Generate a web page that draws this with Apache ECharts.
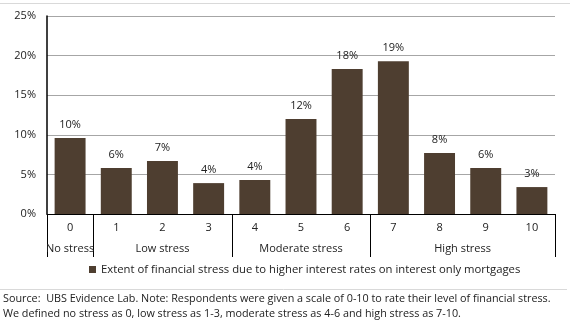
<!DOCTYPE html>
<html><head><meta charset="utf-8">
<script src="https://cdn.jsdelivr.net/npm/echarts@6/dist/echarts.min.js"></script>
<style>html,body{margin:0;padding:0;background:#fff}#c{width:570px;height:321px}</style>
</head><body><div id="c"></div>
<script>
const categories = ['0','1','2','3','4','5','6','7','8','9','10'];
const values = [9.6, 5.8, 6.7, 3.9, 4.3, 12.0, 18.3, 19.3, 7.7, 5.8, 3.4];
const seriesName = 'Extent of financial stress due to higher interest rates on interest only mortgages';
const groupNames = ['No stress', 'Low stress', 'Moderate stress', 'High stress'];
const groupCenters = [0, 2, 5, 8.5];
const groupBounds = [-0.5, 0.5, 3.5, 6.5, 10.5];
const sourceLines = [
  'Source:  UBS Evidence Lab. Note: Respondents were given a scale of 0-10 to rate their level of financial stress.',
  'We defined no stress as 0, low stress as 1-3, moderate stress as 4-6 and high stress as 7-10.'
];

const FONT = 'Open Sans';
const chart = echarts.init(document.getElementById('c'), null, {renderer: 'canvas'});
const baseGraphic = [
  {type: 'line', shape: {x1: 0, y1: 3.5, x2: 570, y2: 3.5}, style: {stroke: '#d9d9d9', lineWidth: 1}},
  {type: 'line', shape: {x1: 0, y1: 289.5, x2: 567, y2: 289.5}, style: {stroke: '#d9d9d9', lineWidth: 1}},
  {type: 'text', left: 3, top: 291, style: {text: sourceLines.join('\n'), fontFamily: FONT, fontSize: 10.8, lineHeight: 15, fill: '#222'}}
];
chart.setOption({
  animation: false,
  textStyle: {fontFamily: FONT},
  grid: {left: 47, right: 15, top: 16, bottom: 107, containLabel: false},
  legend: {
    data: [seriesName], top: 259, left: 84, itemWidth: 7, itemHeight: 7, itemGap: 4,
    icon: 'rect',
    textStyle: {fontFamily: FONT, fontSize: 11.3, color: '#222'}
  },
  xAxis: [
    {
      type: 'category', data: categories, position: 'bottom', offset: 0,
      axisLine: {onZero: false, lineStyle: {color: '#000', width: 1}},
      axisTick: {show: false},
      axisLabel: {margin: 8, fontSize: 11, color: '#222', fontFamily: FONT}
    },
    {
      type: 'value', min: -0.5, max: 10.5, position: 'bottom', offset: 0,
      axisLine: {show: false, onZero: false},
      splitLine: {show: false},
      axisTick: {show: false},
      axisLabel: {
        customValues: groupCenters, margin: 29, fontSize: 11, color: '#222', fontFamily: FONT,
        formatter: function (v) { const i = groupCenters.indexOf(v); return i >= 0 ? groupNames[i] : ''; }
      }
    }
  ],
  yAxis: {
    type: 'value', min: 0, max: 25, interval: 5,
    axisLine: {show: true, onZero: false, lineStyle: {color: '#000', width: 1.5}},
    axisTick: {show: false},
    splitLine: {lineStyle: {color: '#a6a6a6', width: 1}},
    axisLabel: {formatter: '{value}%', margin: 11, fontSize: 11, color: '#222', fontFamily: FONT}
  },
  series: [{
    name: seriesName, type: 'bar', data: values, barWidth: '67%',
    itemStyle: {color: '#4e3e30'},
    label: {
      show: true, position: 'top', distance: 8, fontSize: 11, color: '#222', fontFamily: FONT,
      formatter: function (p) { return Math.round(p.value) + '%'; }
    }
  }],
  graphic: baseGraphic
});
// group separators derived from the axis scale
const y0 = chart.convertToPixel({yAxisIndex: 0}, 0);
const sepLines = groupBounds.map(function (b) {
  const x = Math.round(chart.convertToPixel({xAxisIndex: 1}, b)) + 0.5;
  return {type: 'line', shape: {x1: x, y1: y0, x2: x, y2: y0 + 43}, style: {stroke: '#000', lineWidth: 1}};
});
chart.setOption({graphic: baseGraphic.concat(sepLines)});
</script></body></html>
